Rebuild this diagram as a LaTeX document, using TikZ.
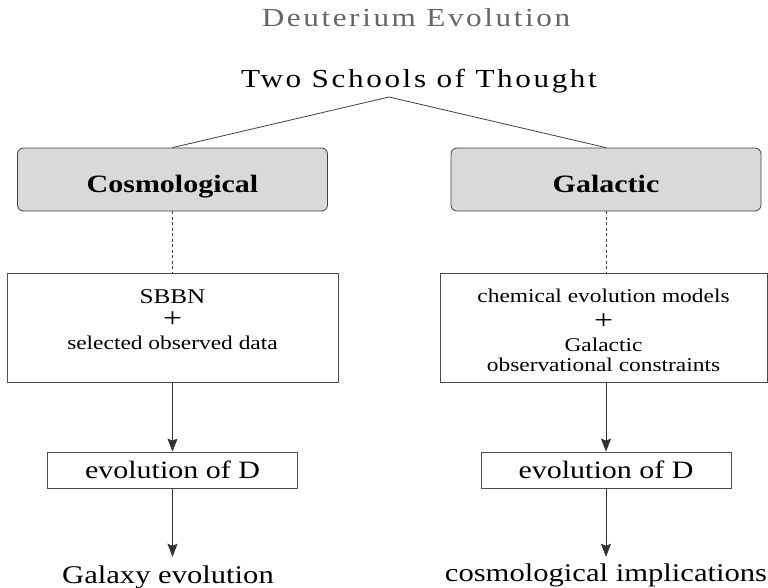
\documentclass[tikz,border=0pt]{standalone}
\usepackage{fontspec}
\setmainfont{Liberation Serif}[FakeStretch=1.2]
\newfontfamily\widefont{Liberation Serif}[FakeStretch=1.2,LetterSpace=10]
\usetikzlibrary{arrows.meta}

\tikzset{
  heading/.style={font=\widefont\fontsize{26}{30}\selectfont},
  schoolbox/.style={draw=black!75, fill=black!15, rounded corners=6pt, line width=0.8pt,
    minimum width=310pt, minimum height=63pt, inner sep=0pt, text height=26pt, text depth=0pt,
    font=\fontsize{25}{30}\selectfont\bfseries},
  infobox/.style={draw=black!70, line width=0.8pt, minimum height=109pt, inner sep=0pt,
    align=center, font=\fontsize{19.5}{22}\selectfont},
  resultbox/.style={draw=black!70, line width=0.8pt, minimum width=250pt, minimum height=36pt,
    inner sep=0pt, text depth=0pt, font=\fontsize{25}{30}\selectfont},
  outcome/.style={font=\fontsize{25.5}{30}\selectfont},
  link/.style={black!75, line width=0.8pt},
  flow/.style={black!80, line width=0.8pt, -{Stealth[length=13pt,width=10pt,inset=2pt]}},
}
\newcommand{\bigplus}{{\fontsize{28}{22}\selectfont +}}

\begin{document}
\begin{tikzpicture}[x=1pt,y=-1pt]
  \useasboundingbox (0,0) rectangle (768,587);

  %% Headings
  \node[heading, black!60, anchor=base] (title) at (416,26) {Deuterium Evolution};
  \node[heading, anchor=base] (schools) at (419,87) {Two Schools of Thought};
  \coordinate (apex) at (389,97);

  %% The two schools
  \node[schoolbox] (cosmo) at (172.5,179.5) {Cosmological};
  \node[schoolbox] (galac) at (606,179.5) {Galactic};

  %% What each school starts from
  \node[infobox, minimum width=331pt, text height=60pt, text depth=17pt] (sbbn) at (172.5,327.5)
    {{\fontsize{21}{22}\selectfont SBBN}\\[2pt] \bigplus\\ selected observed data};
  \node[infobox, minimum width=327pt, text height=87pt, text depth=0pt] (chem) at (603.5,327.5)
    {chemical evolution models\\[5pt] \bigplus\\ Galactic\\[-2pt] observational constraints};

  %% Evolution of D
  \node[resultbox] (evolc) at (172.5,470) {evolution of D};
  \node[resultbox] (evolg) at (606,470) {evolution of D};

  %% Outcomes
  \node[outcome, anchor=base] (galaxy) at (168,583) {Galaxy evolution};
  \node[outcome, anchor=base] (implic) at (606,581) {cosmological implications};

  %% Connectors
  \draw[link] (apex) -- (cosmo.north);
  \draw[link] (apex) -- (galac.north);
  \draw[link, dash pattern=on 3pt off 2.5pt] (cosmo) -- (sbbn);
  \draw[link, dash pattern=on 3pt off 2.5pt] (galac.south) -- (galac.south |- chem.north);
  \draw[flow] (sbbn) -- (evolc);
  \draw[flow] (galac.south |- chem.south) -- (evolg.north);
  \draw[flow, shorten >=5pt] (evolc) -- (evolc.south |- galaxy.north);
  \draw[flow, shorten >=3pt] (evolg) -- (evolg.south |- implic.north);

\end{tikzpicture}
\end{document}
